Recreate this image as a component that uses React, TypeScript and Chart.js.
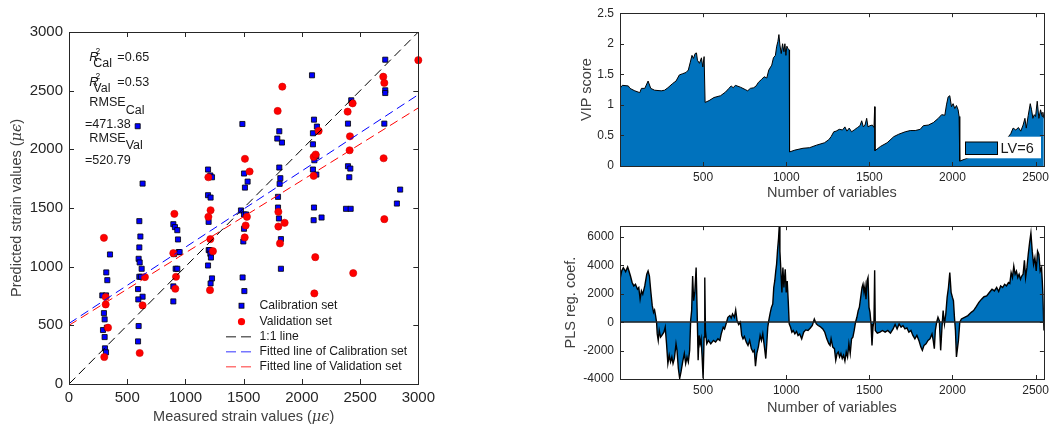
import React, { useEffect, useRef } from "react";
import { Chart, registerables } from "chart.js";
Chart.register(...registerables);

const FONT = "'Liberation Sans', Arial, sans-serif";
const AXIS_COLOR = "#262626";
const AREA_BLUE = "#0072BD";

// ---------- Left panel: predicted vs measured strain ----------
const strainTicks = [0, 500, 1000, 1500, 2000, 2500, 3000];
const calMeasured = [
  286, 318, 320, 329, 352, 300, 306, 292, 306, 309, 318, 325,
  590, 632, 604, 613, 604, 598, 607, 624, 604, 618, 632, 593, 595, 598, 593,
  896, 910, 930, 936, 942, 950, 902, 916, 930, 896, 896,
  1194, 1214, 1228, 1194, 1216, 1199, 1200, 1208, 1214, 1219, 1194, 1228, 1216,
  1489, 1503, 1511, 1534, 1477, 1503, 1520, 1503, 1497, 1491, 1506,
  1806, 1829, 1789, 1806, 1815, 1809, 1795, 1795, 1803, 1820, 1820,
  2087, 2104, 2095, 2129, 2095, 2124, 2107, 2095, 2124, 2104, 2101, 2169,
  2424, 2430, 2396, 2396, 2416, 2407, 2379, 2419,
  2716, 2716, 2716, 2708, 2816, 2844,
];
const calPredicted = [
  755, 755, 951, 885, 1104, 604, 551, 460, 400, 304, 270, 480,
  2197, 1708, 1388, 1257, 1164, 1067, 1036, 982, 914, 914, 744, 809, 721, 494, 363,
  1362, 1337, 1311, 1232, 1124, 1124, 1107, 982, 982, 832, 704,
  1828, 1777, 1762, 1609, 1589, 1382, 1141, 1141, 1110, 1078, 1010, 900, 857,
  2216, 1794, 1674, 1725, 1479, 1445, 1445, 1323, 1215, 908, 792,
  2154, 2058, 2092, 1845, 1754, 1706, 1595, 1504, 1411, 1235, 982,
  2631, 2253, 2137, 2194, 2043, 1941, 1907, 1828, 1785, 1504, 1396, 1419,
  2418, 2395, 2219, 1856, 1836, 1762, 1493, 1493,
  2764, 2503, 2480, 2219, 1538, 1657,
];
const valMeasured = [
  300, 315, 315, 335, 303,
  652, 632, 607,
  905, 896, 919, 913,
  1197, 1216, 1197, 1214, 1236, 1211,
  1511, 1551, 1528, 1517, 1509,
  1832, 1792, 1798, 1852, 1798, 1812,
  2144, 2101, 2118, 2101, 2115, 2107,
  2393, 2436, 2413, 2410, 2441,
  2699, 2708, 2702, 2708, 3000,
];
const valPredicted = [
  1246, 741, 678, 480, 230,
  911, 670, 264,
  1450, 1115, 914, 812,
  1762, 1481, 1425, 1235, 1132, 800,
  1919, 1811, 1425, 1351, 1249,
  2534, 2327, 1467, 1374, 1342, 1198,
  2157, 1936, 1956, 1774, 1081, 772,
  2321, 2392, 2111, 1992, 945,
  2619, 2566, 1924, 1405, 2760,
];
const lineX = [0, 3000];
const oneToOneY = [0, 3000];
const calFitY = [516, 2466];
const valFitY = [500, 2353];
const legendLabels = [
  "Calibration set",
  "Validation set",
  "1:1 line",
  "Fitted line of Calibration set",
  "Fitted line of Validation set",
];
const statValues = ["=0.65", "=0.53", "=471.38", "=520.79"];

// ---------- Right panels: VIP scores and PLS coefficients ----------
const varTicks = [500, 1000, 1500, 2000, 2500];
const vipTicks = [0, 0.5, 1, 1.5, 2, 2.5];
const plsTicks = [-4000, -2000, 0, 2000, 4000, 6000];
const vipX = [
  0, 14, 50, 60, 89, 119, 129, 149, 169, 185, 208, 248, 268, 288, 317, 337, 357, 377, 397, 411,
  423, 433, 442, 452, 460, 466, 478, 490, 498, 506, 510, 512, 536, 565, 605, 635, 655, 669, 681, 694,
  724, 754, 768, 784, 804, 819, 833, 853, 867, 883, 895, 913, 923, 935, 942, 950, 956, 962, 970, 978,
  986, 992, 998, 1004, 1010, 1018, 1020, 1052, 1101, 1141, 1181, 1230, 1256, 1270, 1286, 1300, 1319, 1339, 1353, 1365,
  1379, 1393, 1409, 1429, 1444, 1454, 1464, 1474, 1484, 1492, 1504, 1518, 1528, 1532, 1534, 1567, 1607, 1647, 1677, 1716,
  1746, 1776, 1806, 1825, 1855, 1885, 1915, 1935, 1954, 1964, 1974, 1984, 1994, 2004, 2014, 2024, 2034, 2040, 2044, 2100,
  2150, 2200, 2250, 2300, 2337, 2351, 2365, 2381, 2397, 2411, 2425, 2436, 2444, 2456, 2468, 2476, 2484, 2492, 2500, 2510,
  2520, 2530, 2540, 2544, 2550,
];
const vipY = [
  1.27, 1.32, 1.31, 1.27, 1.23, 1.2, 1.27, 1.27, 1.39, 1.27, 1.24, 1.23, 1.24, 1.28, 1.35, 1.39, 1.49, 1.51, 1.53, 1.57,
  1.7, 1.81, 1.76, 1.84, 1.85, 1.73, 1.68, 1.77, 1.62, 1.79, 1.79, 1.04, 1.07, 1.12, 1.15, 1.21, 1.27, 1.31, 1.28, 1.32,
  1.29, 1.25, 1.23, 1.27, 1.28, 1.31, 1.37, 1.42, 1.46, 1.44, 1.57, 1.65, 1.77, 1.81, 1.95, 2.04, 2.15, 1.98, 1.84, 2.0,
  1.87, 2.0, 1.81, 1.96, 1.92, 1.9, 0.23, 0.26, 0.29, 0.3, 0.34, 0.38, 0.43, 0.48, 0.56, 0.57, 0.6, 0.59, 0.64, 0.57,
  0.62, 0.56, 0.59, 0.63, 0.66, 0.74, 0.64, 0.67, 0.78, 0.64, 0.66, 0.67, 0.63, 0.97, 0.25, 0.32, 0.38, 0.48, 0.52, 0.56,
  0.58, 0.58, 0.6, 0.66, 0.67, 0.71, 0.78, 0.84, 0.83, 1.0, 1.13, 1.15, 0.97, 1.02, 0.94, 0.99, 0.92, 0.81, 0.08, 0.14,
  0.2, 0.26, 0.32, 0.4, 0.48, 0.53, 0.62, 0.59, 0.63, 0.57, 0.67, 0.78, 0.62, 0.83, 1.02, 0.92, 0.78, 0.84, 0.81, 1.06,
  0.78, 0.92, 0.81, 0.88, 0.78,
];
const plsX = [
  0, 10, 20, 34, 46, 54, 63, 73, 83, 93, 105, 113, 121, 129, 137, 149, 161, 169, 177, 185,
  194, 202, 208, 214, 220, 224, 230, 236, 244, 252, 264, 272, 280, 288, 296, 304, 312, 319, 327, 337,
  343, 351, 359, 367, 377, 387, 395, 403, 411, 419, 425, 431, 437, 443, 450, 458, 464, 470, 476, 482,
  488, 494, 500, 506, 510, 514, 522, 532, 546, 562, 575, 589, 601, 609, 621, 629, 641, 649, 661, 669,
  677, 688, 696, 704, 714, 724, 732, 740, 748, 760, 770, 780, 790, 800, 808, 815, 823, 833, 843, 851,
  859, 869, 877, 883, 889, 895, 903, 911, 919, 925, 931, 937, 942, 948, 954, 958, 962, 968, 974, 980,
  986, 994, 1000, 1006, 1012, 1018, 1026, 1034, 1042, 1052, 1062, 1071, 1081, 1093, 1105, 1117, 1131, 1145, 1157, 1169,
  1181, 1192, 1204, 1220, 1232, 1244, 1256, 1264, 1270, 1280, 1290, 1298, 1306, 1313, 1321, 1329, 1337, 1345, 1353, 1361,
  1369, 1377, 1385, 1393, 1401, 1409, 1417, 1425, 1433, 1440, 1448, 1456, 1462, 1468, 1474, 1480, 1486, 1492, 1498, 1504,
  1510, 1516, 1522, 1528, 1532, 1536, 1548, 1564, 1579, 1595, 1611, 1627, 1643, 1655, 1667, 1679, 1691, 1702, 1714, 1726,
  1738, 1750, 1762, 1774, 1786, 1798, 1810, 1819, 1829, 1841, 1853, 1865, 1877, 1885, 1891, 1897, 1905, 1913, 1921, 1929,
  1937, 1944, 1952, 1960, 1968, 1976, 1984, 1992, 2000, 2006, 2012, 2018, 2024, 2030, 2036, 2044, 2054, 2073, 2093, 2113,
  2127, 2143, 2159, 2175, 2190, 2206, 2222, 2238, 2252, 2266, 2278, 2290, 2302, 2314, 2325, 2337, 2345, 2353, 2361, 2369,
  2377, 2385, 2393, 2401, 2409, 2417, 2425, 2433, 2440, 2448, 2456, 2464, 2472, 2480, 2488, 2496, 2504, 2512, 2520, 2528,
  2536, 2544, 2550,
];
const plsY = [
  3030, 3610, 3850, 3570, 3890, 3610, 3260, 2800, 2560, 2680, 2330, 2450, 1630, 2210, 1980, 2560, 3380, 3610, 3260, 2210,
  1170, 700, 860, 470, 0, -820, -1280, -580, -1050, -930, -700, -350, -1520, -2910, -2330, -2800, -2450, -2910, -2560, -1520,
  -1980, -3260, -3960, -3500, -2800, -2210, -2910, -2450, -2800, -1980, 120, 820, 3260, 1520, 2100, 3850, 820, -2680, -930, -1520,
  -1170, -2450, -3960, -1050, 3150, -580, -1520, -1280, -1520, -1280, -1400, -1170, -1280, -820, -350, -470, 0, 350, 470, 300,
  580, 350, 860, 120, -160, 0, -930, -1170, -1000, -1400, -1630, -1280, -1860, -2100, -1980, -3100, -2210, -1700, -930, -1280,
  -820, -1750, -2560, -1520, -350, 120, 630, 1050, 1280, 2450, 2910, 3610, 4080, 5130, 5940, 6760, 5010, 3610, 2100, 3850,
  2450, 3730, 2100, 2910, 1520, -120, -350, -700, -580, -820, -650, -930, -820, -1170, -700, -540, -580, -400, -230, 230,
  -120, -230, -300, -470, -700, -1170, -1500, -1630, -1170, -1750, -1860, -2680, -2210, -2100, -2450, -2210, -2560, -2330, -2730, -2100,
  -2450, -1520, -2210, -1170, -1050, -580, 0, 350, 820, 1050, 1750, 2450, 2680, 2100, 2560, 1630, 2910, 3150, 1050, 700,
  -120, -1630, -350, 120, 3660, -580, -770, -700, -580, -700, -580, -770, -470, -160, -470, -120, -350, -230, -470, -400,
  -700, -580, -930, -1170, -930, -1280, -1750, -1980, -1630, -1520, -1280, -1170, -820, -1330, -1860, -580, 0, 350, 120, -1980,
  -350, 820, -120, 580, 1750, 2450, 3500, 2100, 1750, 1520, 350, -580, -2450, -1860, -1280, 0, 230, 350, 470, 700,
  820, 1100, 1400, 1630, 1800, 1860, 2100, 2330, 2210, 2450, 2170, 2560, 2450, 2680, 2560, 2800, 2730, 3500, 3150, 3960,
  3380, 3610, 3150, 3380, 3030, 3260, 3380, 4360, 3150, 3850, 4780, 5590, 6290, 5010, 4080, 4550, 3610, 5010, 4780, 3610,
  3850, 2100, -580,
];

// ---------- helpers ----------
type Seg = { t: string; font: string; dy?: number };

function drawSegs(ctx: CanvasRenderingContext2D, segs: Seg[], x: number, y: number, center: boolean) {
  let total = 0;
  for (const s of segs) {
    ctx.font = s.font;
    total += ctx.measureText(s.t).width;
  }
  let cx = center ? x - total / 2 : x;
  for (const s of segs) {
    ctx.font = s.font;
    ctx.fillText(s.t, cx, y + (s.dy || 0));
    cx += ctx.measureText(s.t).width;
  }
}

function axis(min: number, max: number, ticks: number[], size: number, padding: number, fit: number, horizontal: boolean) {
  return {
    type: "linear" as const,
    min,
    max,
    afterBuildTicks: (s: any) => {
      s.ticks = ticks.map((v) => ({ value: v }));
    },
    afterFit: (s: any) => {
      if (horizontal) s.height = fit;
      else s.width = fit;
    },
    grid: { display: false, drawTicks: false },
    border: { display: false },
    ticks: {
      autoSkip: false,
      maxRotation: 0,
      padding,
      color: AXIS_COLOR,
      font: { family: FONT, size },
      callback: (v: any) => String(v),
    },
  };
}

function framePlugin(tickLen: number, zeroLine: boolean) {
  return {
    id: "frame",
    afterDatasetsDraw(chart: any) {
      const { ctx, chartArea: a, scales } = chart;
      ctx.save();
      if (zeroLine) {
        const y0 = Math.round(scales.y.getPixelForValue(0));
        ctx.strokeStyle = AXIS_COLOR;
        ctx.lineWidth = 1.5;
        ctx.beginPath();
        ctx.moveTo(a.left, y0);
        ctx.lineTo(a.right, y0);
        ctx.stroke();
      }
      ctx.strokeStyle = AXIS_COLOR;
      ctx.lineWidth = 1;
      ctx.beginPath();
      for (const t of scales.x.ticks) {
        const px = Math.round(scales.x.getPixelForValue(t.value)) + 0.5;
        ctx.moveTo(px, a.bottom);
        ctx.lineTo(px, a.bottom - tickLen);
        ctx.moveTo(px, a.top);
        ctx.lineTo(px, a.top + tickLen);
      }
      for (const t of scales.y.ticks) {
        const py = Math.round(scales.y.getPixelForValue(t.value)) + 0.5;
        ctx.moveTo(a.left, py);
        ctx.lineTo(a.left + tickLen, py);
        ctx.moveTo(a.right, py);
        ctx.lineTo(a.right - tickLen, py);
      }
      ctx.stroke();
      ctx.strokeRect(Math.round(a.left) + 0.5, Math.round(a.top) + 0.5, Math.round(a.right - a.left), Math.round(a.bottom - a.top));
      ctx.restore();
    },
  };
}

const titleFont = `14.5px ${FONT}`;
const greekFont = `italic 14.5px 'DejaVu Serif', serif`;

function makeLeft(canvas: HTMLCanvasElement) {
  const cal = calMeasured.map((x, i) => ({ x, y: calPredicted[i] }));
  const val = valMeasured.map((x, i) => ({ x, y: valPredicted[i] }));
  const line = (ys: number[]) => lineX.map((x, i) => ({ x, y: ys[i] }));
  const lineDs = (ys: number[], color: string, order: number) => ({
    data: line(ys),
    showLine: true,
    borderColor: color,
    borderWidth: 1,
    borderDash: [9, 5],
    pointRadius: 0,
    fill: false,
    order,
  });
  const textPlugin = {
    id: "leftText",
    afterDraw(chart: any) {
      const ctx = chart.ctx as CanvasRenderingContext2D;
      const a = chart.chartArea;
      ctx.save();
      ctx.fillStyle = "#404040";
      ctx.textBaseline = "middle";
      // axis titles
      drawSegs(
        ctx,
        [
          { t: "Measured strain values (", font: titleFont },
          { t: "μϵ", font: greekFont },
          { t: ")", font: titleFont },
        ],
        (a.left + a.right) / 2,
        417,
        true
      );
      ctx.save();
      ctx.translate(17, (a.top + a.bottom) / 2);
      ctx.rotate(-Math.PI / 2);
      drawSegs(
        ctx,
        [
          { t: "Predicted strain values (", font: titleFont },
          { t: "μϵ", font: greekFont },
          { t: ")", font: titleFont },
        ],
        0,
        0,
        true
      );
      ctx.restore();

      // statistics annotation
      ctx.fillStyle = "#1a1a1a";
      ctx.textBaseline = "alphabetic";
      const f = `12.6px ${FONT}`;
      const fi = `italic 13px ${FONT}`;
      const fsup = `8.5px ${FONT}`;
      const fsub = `12.5px ${FONT}`;
      const L = a.left;
      const T = a.top;
      const rLines = [
        { sub: "Cal", val: statValues[0], base: T + 29 },
        { sub: "Val", val: statValues[1], base: T + 54 },
      ];
      for (const r of rLines) {
        ctx.font = fi;
        ctx.fillText("R", L + 20.3, r.base);
        ctx.font = fsup;
        ctx.fillText("2", L + 26.5, r.base - 7.5);
        ctx.font = fsub;
        ctx.fillText(r.sub, L + 24.3, r.base + 6);
        ctx.font = f;
        ctx.fillText(r.val, L + 48.3, r.base);
      }
      const mLines = [
        { sub: "Cal", val: statValues[2], base: T + 74.3 },
        { sub: "Val", val: statValues[3], base: T + 110 },
      ];
      for (const m of mLines) {
        ctx.font = f;
        ctx.fillText("RMSE", L + 20.3, m.base);
        const w = ctx.measureText("RMSE").width;
        ctx.font = fsub;
        ctx.fillText(m.sub, L + 20.3 + w, m.base + 7.3);
        ctx.font = f;
        ctx.fillText(m.val, L + 16, m.base + 21.6);
      }

      // legend
      const lx = 226;
      const mx = 241.5;
      const tx = 259.5;
      const ys = [305.7, 321.7, 336.7, 351.7, 366.7];
      ctx.textBaseline = "middle";
      ctx.fillStyle = "#1a1a1a";
      ctx.font = `12.2px ${FONT}`;
      legendLabels.forEach((lab, i) => ctx.fillText(lab, tx, ys[i]));
      // markers
      ctx.fillStyle = "#0000ff";
      ctx.strokeStyle = "#000";
      ctx.lineWidth = 0.8;
      ctx.fillRect(mx - 2.5, ys[0] - 2.5, 5, 5);
      ctx.strokeRect(mx - 2.5, ys[0] - 2.5, 5, 5);
      ctx.beginPath();
      ctx.arc(mx, ys[1], 3.6, 0, Math.PI * 2);
      ctx.fillStyle = "#ff0000";
      ctx.fill();
      const lc = ["rgba(0,0,0,0.6)", "rgba(60,60,255,0.7)", "rgba(255,60,60,0.7)"];
      ctx.lineWidth = 1.5;
      ctx.setLineDash([10, 5]);
      for (let k = 0; k < 3; k++) {
        ctx.strokeStyle = lc[k];
        ctx.beginPath();
        ctx.moveTo(lx, ys[2 + k]);
        ctx.lineTo(lx + 26, ys[2 + k]);
        ctx.stroke();
      }
      ctx.restore();
    },
  };
  return new Chart(canvas, {
    type: "scatter",
    data: {
      datasets: [
        lineDs(oneToOneY, "#000000", 1),
        lineDs(calFitY, "#0000ff", 2),
        lineDs(valFitY, "#ff0000", 3),
        {
          data: cal,
          pointStyle: "rect",
          pointRadius: 3.6,
          backgroundColor: "#0000ff",
          borderColor: "#000000",
          borderWidth: 0.8,
          order: 5,
          clip: false,
        } as any,
        {
          data: val,
          pointStyle: "circle",
          pointRadius: 3.6,
          backgroundColor: "#ff0000",
          borderColor: "#d00000",
          borderWidth: 0.6,
          order: 4,
          clip: false,
        } as any,
      ],
    },
    options: {
      responsive: false,
      devicePixelRatio: 1,
      animation: false,
      layout: { padding: { left: 0, top: 32, right: 18, bottom: 0 } },
      plugins: { legend: { display: false }, tooltip: { enabled: false } },
      scales: {
        x: axis(0, 3000, strainTicks, 15, 5, 42, true),
        y: axis(0, 3000, strainTicks, 15, 6, 69, false),
      } as any,
    },
    plugins: [framePlugin(5, false), textPlugin],
  });
}

function makeRight(
  canvas: HTMLCanvasElement,
  xs: number[],
  ys: number[],
  yMin: number,
  yMax: number,
  yTicks: number[],
  top: number,
  xFit: number,
  xTitleOffset: number,
  yTitle: string,
  yTitleX: number,
  zero: boolean,
  legend: boolean,
  lineW: number
) {
  const textPlugin = {
    id: "rightText",
    afterDraw(chart: any) {
      const ctx = chart.ctx as CanvasRenderingContext2D;
      const a = chart.chartArea;
      ctx.save();
      ctx.fillStyle = "#404040";
      ctx.textBaseline = "middle";
      ctx.textAlign = "center";
      ctx.font = titleFont;
      ctx.fillText("Number of variables", (a.left + a.right) / 2, a.bottom + xTitleOffset);
      ctx.save();
      ctx.translate(yTitleX, (a.top + a.bottom) / 2);
      ctx.rotate(-Math.PI / 2);
      ctx.fillText(yTitle, 0, 0);
      ctx.restore();
      if (legend) {
        ctx.fillStyle = "#ffffff";
        ctx.fillRect(401, 136.7, 80, 21.6);
        ctx.fillStyle = AREA_BLUE;
        ctx.fillRect(405.5, 142, 32, 12.5);
        ctx.strokeStyle = "#000";
        ctx.lineWidth = 1;
        ctx.strokeRect(405.5, 142, 32, 12.5);
        ctx.fillStyle = "#1a1a1a";
        ctx.textAlign = "left";
        ctx.font = `14.5px ${FONT}`;
        ctx.fillText("LV=6", 440.5, 148.5);
      }
      ctx.restore();
    },
  };
  return new Chart(canvas, {
    type: "line",
    data: {
      datasets: [
        {
          data: xs.map((x, i) => ({ x, y: ys[i] })),
          borderColor: "#000000",
          borderWidth: lineW,
          backgroundColor: AREA_BLUE,
          fill: "origin",
          pointRadius: 0,
          tension: 0,
        },
      ],
    },
    options: {
      responsive: false,
      devicePixelRatio: 1,
      animation: false,
      layout: { padding: { left: 0, top, right: 4.5, bottom: 0 } },
      plugins: { legend: { display: false }, tooltip: { enabled: false } },
      scales: {
        x: axis(0, 2550, varTicks, 12, 4, xFit, true),
        y: axis(yMin, yMax, yTicks, 12, 6, 60, false),
      } as any,
    },
    plugins: [framePlugin(4, zero), textPlugin],
  });
}

export default function App() {
  const leftRef = useRef<HTMLCanvasElement>(null);
  const vipRef = useRef<HTMLCanvasElement>(null);
  const plsRef = useRef<HTMLCanvasElement>(null);
  useEffect(() => {
    const charts = [
      makeLeft(leftRef.current!),
      makeRight(vipRef.current!, vipX, vipY, 0, 2.5, vipTicks, 13, 44, 27, "VIP score", 27, false, true, 1),
      makeRight(plsRef.current!, plsX, plsY, -4000, 6770, plsTicks, 12, 47, 28.5, "PLS reg. coef.", 11, true, false, 1.4),
    ];
    return () => charts.forEach((c) => c.destroy());
  }, []);
  return (
    <div style={{ position: "absolute", left: 0, top: 0, width: 1053, height: 426, background: "#ffffff" }}>
      <canvas ref={leftRef} width={440} height={426} style={{ position: "absolute", left: 0, top: 0, width: 440, height: 426 }} />
      <canvas ref={vipRef} width={493} height={210} style={{ position: "absolute", left: 560, top: 0, width: 493, height: 210 }} />
      <canvas ref={plsRef} width={493} height={213} style={{ position: "absolute", left: 560, top: 213, width: 493, height: 213 }} />
    </div>
  );
}
